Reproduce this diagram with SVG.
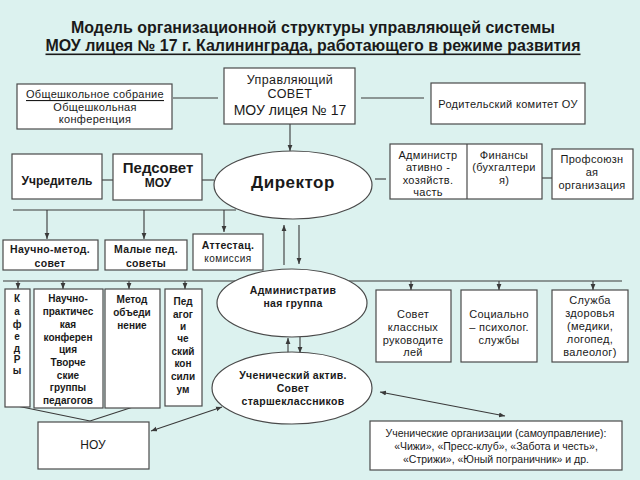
<svg xmlns="http://www.w3.org/2000/svg" width="640" height="480" viewBox="0 0 640 480">
<style>
.box{fill:#fff;stroke:#4a4a4a;stroke-width:1.2}
.ell{fill:#fff;stroke:#4a4a4a;stroke-width:1.2}
.ln{stroke:#3a3a3a;stroke-width:1.1;fill:none}
text{font-family:"Liberation Sans",Arial,sans-serif;fill:#1a1a1a;text-anchor:middle;dominant-baseline:central}
.t{font-size:11px;letter-spacing:0.3px}
.b{font-size:10.5px;font-weight:bold;letter-spacing:0.3px}
.c{font-size:10px;font-weight:bold}
</style>
<defs>
<marker id="ar" viewBox="0 0 10 10" refX="10" refY="5" markerWidth="6" markerHeight="6" orient="auto-start-reverse" markerUnits="userSpaceOnUse">
<path d="M0,1 L10,5 L0,9 z" fill="#3a3a3a"/>
</marker>
</defs>
<rect width="640" height="480" fill="#dcf2ef"/>

<g id="title" style="font-weight:bold">
<text x="313" y="27" font-size="16" textLength="484" lengthAdjust="spacingAndGlyphs">Модель организационной структуры управляющей системы</text>
<text x="313" y="45" font-size="16" textLength="535" lengthAdjust="spacingAndGlyphs" text-decoration="underline">МОУ лицея № 17 г. Калининграда, работающего в режиме развития</text>
</g>

<g id="connectors">
<line class="ln" x1="173" y1="98" x2="218" y2="98"/>
<line class="ln" x1="361" y1="98" x2="424" y2="98"/>
<line class="ln" x1="290" y1="124" x2="290" y2="151" marker-end="url(#ar)"/>
<line class="ln" x1="102" y1="180" x2="113" y2="180"/>
<line class="ln" x1="202" y1="180" x2="214" y2="180"/>
<line class="ln" x1="375" y1="179" x2="386" y2="179"/>
<line class="ln" x1="542" y1="178" x2="552" y2="178"/>
<line class="ln" x1="13" y1="210" x2="236" y2="210"/>
<line class="ln" x1="47" y1="210" x2="47" y2="239" marker-end="url(#ar)"/>
<line class="ln" x1="144" y1="210" x2="144" y2="239" marker-end="url(#ar)"/>
<line class="ln" x1="224" y1="210" x2="224" y2="232" marker-end="url(#ar)"/>
<line class="ln" x1="284" y1="265" x2="284" y2="225" marker-end="url(#ar)"/>
<line class="ln" x1="299" y1="225" x2="299" y2="264" marker-end="url(#ar)"/>
<line class="ln" x1="3" y1="281" x2="236" y2="281"/>
<line class="ln" x1="349" y1="281" x2="622" y2="281"/>
<line class="ln" x1="18" y1="281" x2="18" y2="289" marker-end="url(#ar)"/>
<line class="ln" x1="63" y1="281" x2="63" y2="289" marker-end="url(#ar)"/>
<line class="ln" x1="129" y1="281" x2="129" y2="289" marker-end="url(#ar)"/>
<line class="ln" x1="185" y1="281" x2="185" y2="289" marker-end="url(#ar)"/>
<line class="ln" x1="411" y1="281" x2="411" y2="290" marker-end="url(#ar)"/>
<line class="ln" x1="499" y1="281" x2="499" y2="290" marker-end="url(#ar)"/>
<line class="ln" x1="593" y1="281" x2="593" y2="290" marker-end="url(#ar)"/>
<line class="ln" x1="288" y1="354" x2="288" y2="338" marker-end="url(#ar)"/>
<line class="ln" x1="300" y1="337" x2="300" y2="353" marker-end="url(#ar)"/>
<line class="ln" x1="17" y1="406" x2="90" y2="421"/>
<line class="ln" x1="133" y1="407" x2="90" y2="421"/>
<line class="ln" x1="151" y1="431" x2="222" y2="407" marker-start="url(#ar)" marker-end="url(#ar)"/>
<line class="ln" x1="380" y1="392" x2="505" y2="416" marker-start="url(#ar)" marker-end="url(#ar)"/>
</g>

<g id="obshch">
<rect class="box" x="17" y="84" width="155" height="45"/>
<text class="t" x="95" y="94" text-decoration="underline">Общешкольное собрание</text>
<text class="t" x="95" y="107">Общешкольная</text>
<text class="t" x="95" y="119">конференция</text>
</g>

<g id="upr">
<rect class="box" x="224" y="68" width="131" height="56"/>
<text x="290" y="80" font-size="12.5" letter-spacing="0.4">Управляющий</text>
<text x="290" y="94" font-size="12.5" letter-spacing="0.4">СОВЕТ</text>
<text x="290" y="110" font-size="14">МОУ лицея № 17</text>
</g>

<g id="rodit">
<rect class="box" x="431" y="83" width="154" height="41"/>
<text class="t" x="508" y="104">Родительский комитет ОУ</text>
</g>

<g id="uchred">
<rect class="box" x="12" y="154" width="90" height="45"/>
<text x="57" y="181" font-size="12" font-weight="bold">Учредитель</text>
</g>

<g id="pedsovet">
<rect class="box" x="113" y="154" width="89" height="46"/>
<text x="158" y="167" font-size="15" font-weight="bold">Педсовет</text>
<text x="158" y="183" font-size="12" font-weight="bold">МОУ</text>
</g>

<g id="director">
<ellipse class="ell" cx="293" cy="185" rx="79" ry="34"/>
<text x="293" y="182" font-size="17" font-weight="bold" letter-spacing="0.5">Директор</text>
</g>

<g id="adminfin">
<rect class="box" x="390" y="144" width="152" height="55"/>
<line x1="467" y1="144" x2="467" y2="199" stroke="#4a4a4a" stroke-width="1.2"/>
<text class="t" x="428" y="155">Администр</text>
<text class="t" x="428" y="167">ативно -</text>
<text class="t" x="428" y="180">хозяйств.</text>
<text class="t" x="428" y="192">часть</text>
<text class="t" x="504" y="155">Финансы</text>
<text class="t" x="504" y="167">(бухгалтери</text>
<text class="t" x="504" y="180">я)</text>
</g>

<g id="profsoyuz">
<rect class="box" x="552" y="149" width="81" height="50"/>
<text class="t" x="592" y="159">Профсоюзн</text>
<text class="t" x="592" y="172">ая</text>
<text class="t" x="592" y="185">организация</text>
</g>

<g id="nauchmet">
<rect class="box" x="3" y="240" width="95" height="30"/>
<text class="b" x="50" y="249">Научно-метод.</text>
<text class="b" x="50" y="263">совет</text>
</g>

<g id="malye">
<rect class="box" x="105" y="240" width="82" height="30"/>
<text class="b" x="146" y="249">Малые пед.</text>
<text class="b" x="146" y="263">советы</text>
</g>

<g id="attest">
<rect class="box" x="193" y="234" width="70" height="36"/>
<text class="b" x="228" y="245">Аттестац.</text>
<text x="228" y="258" font-size="10" fill="#666" letter-spacing="0.5">комиссия</text>
</g>

<g id="admgroup">
<ellipse class="ell" cx="292" cy="303" rx="75" ry="34"/>
<text class="b" x="293" y="290">Административ</text>
<text class="b" x="293" y="303">ная группа</text>
</g>

<g id="kafedry">
<rect class="box" x="5" y="289" width="25" height="118"/>
<text class="c" x="17" y="298">К</text>
<text class="c" x="17" y="311">а</text>
<text class="c" x="17" y="324">ф</text>
<text class="c" x="17" y="336">е</text>
<text class="c" x="17" y="348">д</text>
<text class="c" x="17" y="359">Р</text>
<text class="c" x="17" y="370">ы</text>
</g>

<g id="nauchprakt">
<rect class="box" x="34" y="289" width="69" height="119"/>
<text class="c" x="68" y="298">Научно-</text>
<text class="c" x="68" y="311">практичес</text>
<text class="c" x="68" y="324">кая</text>
<text class="c" x="68" y="337">конферен</text>
<text class="c" x="68" y="349">ция</text>
<text class="c" x="68" y="362">Творче</text>
<text class="c" x="68" y="375">ские</text>
<text class="c" x="68" y="387">группы</text>
<text class="c" x="68" y="400">педагогов</text>
</g>

<g id="metod">
<rect class="box" x="105" y="289" width="55" height="119"/>
<text class="c" x="132" y="299">Метод</text>
<text class="c" x="132" y="312">объеди</text>
<text class="c" x="132" y="325">нение</text>
</g>

<g id="pedkons">
<rect class="box" x="165" y="289" width="37" height="117"/>
<text class="c" x="183" y="301">Пед</text>
<text class="c" x="183" y="314">агог</text>
<text class="c" x="183" y="326">и</text>
<text class="c" x="183" y="338">че</text>
<text class="c" x="183" y="351">ский</text>
<text class="c" x="183" y="363">кон</text>
<text class="c" x="183" y="376">сили</text>
<text class="c" x="183" y="389">ум</text>
</g>

<g id="sovetkl">
<rect class="box" x="376" y="290" width="75" height="72"/>
<text class="t" x="413" y="314">Совет</text>
<text class="t" x="413" y="327">классных</text>
<text class="t" x="413" y="340">руководите</text>
<text class="t" x="413" y="352">лей</text>
</g>

<g id="social">
<rect class="box" x="461" y="290" width="76" height="72"/>
<text class="t" x="499" y="314">Социально</text>
<text class="t" x="499" y="327">– психолог.</text>
<text class="t" x="499" y="340">службы</text>
</g>

<g id="zdorov">
<rect class="box" x="552" y="290" width="76" height="72"/>
<text class="t" x="590" y="300">Служба</text>
<text class="t" x="590" y="313">здоровья</text>
<text class="t" x="590" y="326">(медики,</text>
<text class="t" x="590" y="339">логопед,</text>
<text class="t" x="590" y="352">валеолог)</text>
</g>

<g id="uchaktiv">
<ellipse class="ell" cx="292" cy="388" rx="80" ry="36"/>
<text class="b" x="293" y="375">Ученический актив.</text>
<text class="b" x="293" y="388">Совет</text>
<text class="b" x="293" y="401">старшеклассников</text>
</g>

<g id="nou">
<rect class="box" x="38" y="422" width="111" height="47"/>
<text x="93" y="445" font-size="12">НОУ</text>
</g>

<g id="uchorg">
<rect class="box" x="370" y="421" width="252" height="49"/>
<text x="496" y="433" font-size="10.5">Ученические организации (самоуправление):</text>
<text x="496" y="446" font-size="10.5">«Чижи», «Пресс-клуб», «Забота и честь»,</text>
<text x="496" y="459" font-size="10.5">«Стрижи», «Юный пограничник» и др.</text>
</g>
</svg>
